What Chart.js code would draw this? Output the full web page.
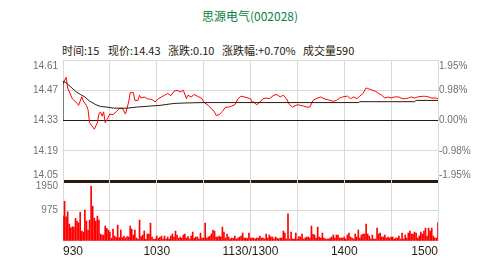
<!DOCTYPE html>
<html>
<head>
<meta charset="utf-8">
<script src="https://cdn.jsdelivr.net/npm/chart.js@4.4.0/dist/chart.umd.min.js"></script>
<style>
    html, body { margin: 0; padding: 0; background: #fff; }
    body { width: 500px; height: 270px; position: relative; overflow: hidden; font-family: "Noto Sans CJK SC", sans-serif; }
    .title { position: absolute; left: 0; width: 500px; top: 9px; text-align: center; font-size: 12px; line-height: 14px; color: #0a8040; }
    .hdr { position: absolute; top: 43px; font-size: 11px; line-height: 14px; color: #2b1a0e; white-space: nowrap; }
    canvas { position: absolute; left: 0; }
</style>
</head>
<body>
<div class="title">思源电气(002028)</div>
<div class="hdr" style="left:62px">时间:15</div>
<div class="hdr" style="left:108px">现价:14.43</div>
<div class="hdr" style="left:168px">涨跌:0.10</div>
<div class="hdr" style="left:222px">涨跌幅:+0.70%</div>
<div class="hdr" style="left:303px">成交量590</div>
<canvas id="price-chart" width="500" height="136" style="top:52px"></canvas>
<canvas id="vol-chart" width="500" height="94" style="top:176px"></canvas>
<script>
// minutes since 9:30 (0..240, lunch break squeezed out)
const timeTicks = [0, 30, 60, 90, 120, 150, 180, 210, 240];
const timeLabels = { 0: '930', 60: '1030', 120: '1130/1300', 180: '1400', 240: '1500' };

const priceTicks = [14.05, 14.19, 14.33, 14.47, 14.61];
const priceLabels = ['14.05', '14.19', '14.33', '14.47', '14.61'];
const pctTicks = [-1.95, -0.98, 0, 0.98, 1.95];
const pctLabels = ['-1.95%', '-0.98%', '0.00%', '0.98%', '1.95%'];
const volTicks = [0, 975, 1950];
const volLabels = ['', '975', '1950'];
const preClose = 14.33;

// price line
const priceMinutes = [0, 2, 3, 6, 9, 10, 12, 13, 15, 16, 17, 19, 20, 22, 23, 24, 25, 26, 27, 29,
    30, 32, 34, 36, 38, 40, 41, 42, 43, 45, 46, 48, 49, 50, 52, 54, 56, 58, 59, 61,
    63, 65, 67, 69, 71, 73, 75, 77, 79, 80, 82, 84, 87, 89, 90, 93, 95, 97, 98, 100,
    102, 104, 106, 108, 110, 112, 114, 116, 120, 121, 122, 124, 126, 128, 130, 132, 135, 137, 139, 141,
    143, 145, 147, 150, 152, 154, 156, 158, 160, 162, 165, 167, 169, 171, 173, 175, 177, 179, 182, 184,
    186, 188, 190, 192, 194, 195, 198, 200, 202, 204, 206, 208, 210, 212, 215, 217, 219, 221, 223, 225,
    227, 230, 232, 234, 236, 239, 240];
const prices = [14.50, 14.53, 14.48, 14.43, 14.41, 14.40, 14.44, 14.42, 14.40, 14.38, 14.32, 14.30, 14.29, 14.32, 14.36, 14.37, 14.35, 14.37, 14.32, 14.345,
    14.36, 14.357, 14.37, 14.385, 14.387, 14.36, 14.387, 14.415, 14.459, 14.459, 14.423, 14.423, 14.447, 14.434, 14.439, 14.431, 14.428, 14.423, 14.415, 14.431,
    14.439, 14.447, 14.455, 14.445, 14.465, 14.47, 14.462, 14.47, 14.431, 14.447, 14.439, 14.45, 14.439, 14.431, 14.415, 14.40, 14.385, 14.369, 14.353, 14.357,
    14.372, 14.392, 14.392, 14.397, 14.403, 14.431, 14.443, 14.439, 14.431, 14.415, 14.415, 14.403, 14.415, 14.431, 14.434, 14.431, 14.447, 14.45, 14.439, 14.447,
    14.431, 14.403, 14.392, 14.403, 14.40, 14.397, 14.392, 14.392, 14.423, 14.431, 14.439, 14.431, 14.427, 14.423, 14.419, 14.423, 14.434, 14.439, 14.443, 14.431,
    14.439, 14.431, 14.443, 14.455, 14.481, 14.478, 14.47, 14.465, 14.455, 14.447, 14.434, 14.439, 14.434, 14.439, 14.439, 14.431, 14.431, 14.434, 14.439, 14.434,
    14.439, 14.442, 14.442, 14.439, 14.434, 14.434, 14.43];

// average price line
const avgMinutes = [0, 0, 2, 5, 8, 11, 14, 17, 21, 24, 28, 33, 41, 47, 56, 62, 71, 78, 90, 189, 190, 225, 226, 240];
const avgPrices = [14.33, 14.512, 14.504, 14.485, 14.465, 14.451, 14.439, 14.420, 14.403, 14.395, 14.392, 14.387, 14.387, 14.392, 14.397, 14.400, 14.409, 14.411, 14.413, 14.413, 14.417, 14.417, 14.423, 14.423];

// one bar per minute, 241 minutes
const volumes = [
    795, 1272, 774, 933, 541, 424, 456, 445, 721, 636,
    583, 922, 318, 286, 986, 636, 350, 668, 1749, 1113,
    731, 636, 795, 668, 223, 191, 191, 477, 403, 350,
    286, 85, 382, 159, 106, 509, 106, 350, 106, 159, 95,
    138, 127, 477, 382, 191, 350, 95, 64, 668, 138,
    191, 318, 53, 223, 223, 572, 127, 53, 64, 159,
    85, 117, 159, 64, 159, 64, 127, 64, 159, 223,
    127, 318, 191, 85, 127, 95, 191, 223, 95, 138, 64,
    159, 286, 85, 127, 127, 64, 254, 95, 95, 572,
    95, 127, 159, 223, 350, 318, 127, 127, 159, 127,
    445, 286, 95, 223, 127, 64, 95, 85, 159, 64,
    95, 127, 159, 254, 95, 95, 85, 254, 95,
    95, 95, 64, 95, 95, 159, 95, 95, 64, 223,
    95, 191, 127, 127, 64, 127, 95, 64, 95, 95,
    318, 254, 64, 869, 64, 286, 64, 64, 254, 64, 138, 127,
    223, 64, 95, 127, 127, 95, 477, 223, 191, 95,
    445, 127, 95, 254, 95, 64, 64, 64, 95, 127,
    191, 95, 191, 191, 95, 95, 95, 127, 64, 191,
    254, 127, 95, 64, 223, 127, 350, 95, 191, 223,
    223, 541, 223, 159, 64, 191, 64, 64, 413, 223,
    254, 127, 127, 191, 95, 127, 95, 127, 127, 64,
    95, 95, 159, 64, 254, 64, 191, 95, 254, 318,
    223, 223, 286, 254, 95, 159, 286, 223, 318, 413,
    159, 413, 318, 413, 159, 95, 95, 590
];

const GRID = '#d9d9d9';
const DARK = '#2b1a0e';
const LABEL_FONT = { family: '"Liberation Sans Narrow", "Liberation Sans", sans-serif', size: 10 };

// push the top label down and the bottom label up, like the original
function edgeLabel(text, i, n) {
    if (i === n - 1) return ['', text];
    if (i === 0) return [text, ''];
    return text;
}
const near = (a, b) => Math.abs(a - b) < 1e-6;

// fixed axis width, and no extra room reserved for the edge labels
function fixWidth(w) {
    return s => { s.width = w; s.paddingTop = 0; s.paddingBottom = 0; };
}
function fixHeight(h) {
    return s => { s.height = h; s.paddingLeft = 0; s.paddingRight = 0; };
}

new Chart(document.getElementById('price-chart'), {
    type: 'line',
    data: {
        datasets: [
            {
                data: avgMinutes.map((m, i) => ({ x: m, y: avgPrices[i] })),
                borderColor: DARK, borderWidth: 1, pointRadius: 0, tension: 0
            },
            {
                data: priceMinutes.map((m, i) => ({ x: m, y: prices[i] })),
                borderColor: '#ff0000', borderWidth: 1, pointRadius: 0, tension: 0
            }
        ]
    },
    options: {
        responsive: false,
        animation: false,
        layout: { padding: { top: 8, bottom: 7, left: 0, right: 0 } },
        plugins: { legend: { display: false }, tooltip: { enabled: false } },
        scales: {
            x: {
                type: 'linear', min: 0, max: 240,
                afterBuildTicks: s => { s.ticks = timeTicks.map(v => ({ value: v })); },
                afterFit: fixHeight(0),
                ticks: { display: false },
                grid: { color: GRID, drawTicks: false },
                border: { display: false }
            },
            y: {
                position: 'left', min: 14.05, max: 14.61,
                afterBuildTicks: s => { s.ticks = priceTicks.map(v => ({ value: v })); },
                afterFit: fixWidth(63),
                ticks: {
                    color: '#707070', font: LABEL_FONT, padding: 5, autoSkip: false,
                    callback: (v, i) => edgeLabel(priceLabels[i], i, priceLabels.length)
                },
                grid: {
                    drawTicks: false,
                    color: ctx => (near(ctx.tick.value, preClose) || near(ctx.tick.value, 14.05)) ? DARK : GRID,
                    lineWidth: ctx => near(ctx.tick.value, 14.05) ? 3 : 1
                },
                border: { display: false }
            },
            y2: {
                position: 'right', min: -1.95, max: 1.95,
                afterBuildTicks: s => { s.ticks = pctTicks.map(v => ({ value: v })); },
                afterFit: fixWidth(62),
                ticks: {
                    color: '#707070', font: LABEL_FONT, padding: 1, autoSkip: false,
                    callback: (v, i) => edgeLabel(pctLabels[i], i, pctLabels.length)
                },
                grid: { display: false, drawTicks: false },
                border: { display: false }
            }
        }
    }
});

new Chart(document.getElementById('vol-chart'), {
    type: 'bar',
    data: {
        datasets: [{
            data: volumes.map((v, i) => ({ x: i, y: v })),
            backgroundColor: '#ff0000',
            barThickness: 1
        }]
    },
    options: {
        responsive: false,
        animation: false,
        layout: { padding: { top: 4, bottom: 0, left: 0, right: 62 } },
        plugins: { legend: { display: false }, tooltip: { enabled: false } },
        scales: {
            x: {
                type: 'linear', min: 0, max: 240, offset: false,
                afterBuildTicks: s => { s.ticks = timeTicks.map(v => ({ value: v })); },
                afterFit: fixHeight(29),
                ticks: {
                    color: DARK, padding: 3, align: 'inner', autoSkip: false, maxRotation: 0,
                    font: { family: '"Liberation Sans Narrow", "Liberation Sans", sans-serif', size: 12 },
                    callback: v => timeLabels[v] || ''
                },
                grid: { color: GRID, drawTicks: false, offset: false },
                border: { display: false }
            },
            y: {
                position: 'left', min: 0, max: 1950,
                afterBuildTicks: s => { s.ticks = volTicks.map(v => ({ value: v })); },
                afterFit: fixWidth(63),
                ticks: {
                    color: '#707070', font: LABEL_FONT, padding: 5, autoSkip: false,
                    callback: (v, i) => i === volLabels.length - 1 ? ['', volLabels[i]] : volLabels[i]
                },
                grid: {
                    drawTicks: false,
                    color: ctx => near(ctx.tick.value, 975) ? GRID : 'rgba(0,0,0,0)'
                },
                border: { display: false }
            }
        }
    }
});
</script>
</body>
</html>
